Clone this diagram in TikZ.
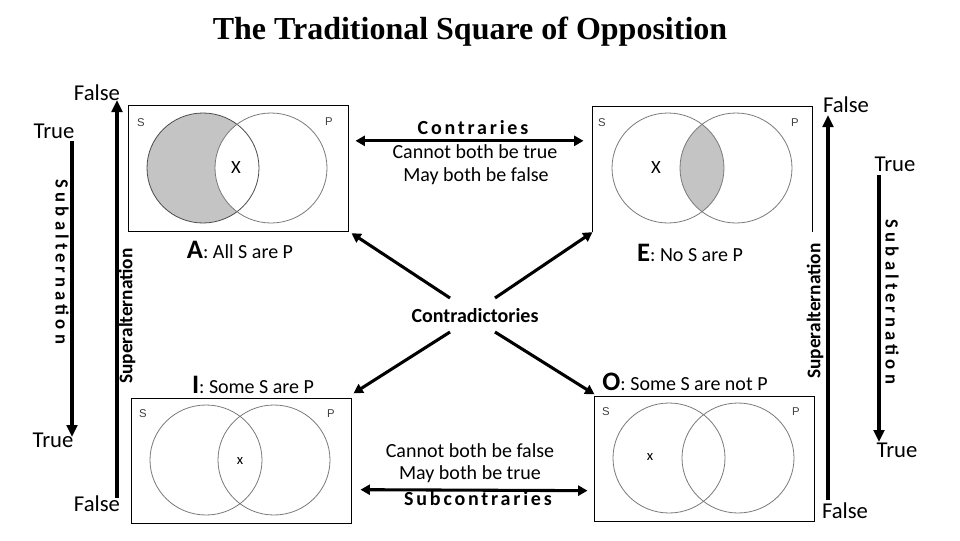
\documentclass[tikz,border=0pt]{standalone}
\usepackage{fontspec}
\setmainfont{Carlito}
\newfontfamily\titlefont{Liberation Serif}
\newfontfamily\spaced[LetterSpace=14]{Carlito}
\newfontfamily\wspaced[LetterSpace=22]{Carlito}
\newfontfamily\lblfont{Liberation Sans}
\usetikzlibrary{arrows.meta,calc}
\definecolor{vennfill}{HTML}{C4C4C4}
\definecolor{circ}{HTML}{7A7A7A}
\begin{document}
\begin{tikzpicture}[x=0.75pt,y=-0.75pt,
  box/.style={inner sep=0pt,outer sep=0pt,minimum width=165pt,minimum height=94pt},
  boxline/.style={draw=black,line width=0.7pt},
  venn/.style={draw=circ,line width=0.6pt},
  sp/.style={font=\lblfont\fontsize{8.5}{10}\selectfont,text=black!75},
  stmt/.style={font=\fontsize{15}{18}\selectfont,inner sep=1pt},
  relnote/.style={font=\fontsize{15}{18}\selectfont,inner sep=1pt},
  relname/.style={font=\spaced\bfseries\fontsize{15}{18}\selectfont,inner sep=1pt},
  tf/.style={font=\fontsize{17}{20}\selectfont,inner sep=1pt},
  vlabel/.style={font=\wspaced\bfseries\fontsize{14}{16}\selectfont,inner sep=1pt},
  suplabel/.style={font=\bfseries\fontsize{14.5}{16}\selectfont,inner sep=1pt},
  rel/.style={line width=2.3pt,-{Triangle[length=7pt,width=7.5pt]}},
  relboth/.style={line width=2.3pt,{Triangle[length=7pt,width=7.5pt]}-{Triangle[length=7pt,width=7.5pt]}},
  axis/.style={line width=3pt,-{Triangle[length=9pt,width=8pt]}}]
\useasboundingbox[fill=white] (0,0) rectangle (960,540);

% title
\node[font=\titlefont\bfseries\fontsize{24}{28}\selectfont] (title) at (470,32) {The Traditional Square of Opposition};

% boxes
\node[box,boxline] (A) at (238.5,168.5) {};
\node[box] (E) at (702.5,169.5) {};
\draw[boxline] (E.south west) -- (E.north west) -- (E.north east) -- (E.south east);
\node[box,boxline] (I) at (241.5,461) {};
\node[box,boxline] (O) at (704.5,459) {};

% A diagram
\fill[vennfill] (203,168) ellipse [x radius=56,y radius=55];
\fill[white] (271,168) ellipse [x radius=56,y radius=55];
\draw[venn,draw=black!70] (203,168) ellipse [x radius=56,y radius=55];
\draw[venn] (271,168) ellipse [x radius=56,y radius=55];
\node[sp] (AS) at (141,123) {S};
\node[sp] (AP) at (329,122) {P};
\node[font=\fontsize{14}{16}\selectfont] (AX) at (236,168) {X};

% E diagram
\begin{scope}
\clip (668,168) ellipse [x radius=56,y radius=55];
\fill[vennfill] (736,168) ellipse [x radius=56,y radius=55];
\end{scope}
\draw[venn] (668,168) ellipse [x radius=56,y radius=55];
\draw[venn] (736,168) ellipse [x radius=56,y radius=55];
\node[sp] (ES) at (602,123) {S};
\node[sp] (EP) at (795,123) {P};
\node[font=\fontsize{14}{16}\selectfont] (EX) at (656,168) {X};

% I diagram
\draw[venn] (206,460) ellipse [x radius=56,y radius=55];
\draw[venn] (274,460) ellipse [x radius=56,y radius=55];
\node[sp] (IS) at (143,414) {S};
\node[sp] (IP) at (331,414) {P};
\node[font=\fontsize{11}{12}\selectfont] (IX) at (240,461) {x};

% O diagram
\draw[venn] (669,458) ellipse [x radius=56,y radius=55];
\draw[venn] (738,458) ellipse [x radius=56,y radius=55];
\node[sp] (OS) at (606,412) {S};
\node[sp] (OP) at (796,412) {P};
\node[font=\fontsize{11}{12}\selectfont] (OX) at (650,457) {x};

% statement labels
\node[stmt] (Alab) at (240,250) {{\bfseries\fontsize{20}{22}\selectfont A}: All S are P};
\node[stmt] (Elab) at (690,253) {{\bfseries\fontsize{20}{22}\selectfont E}: No S are P};
\node[stmt] (Ilab) at (253,385) {{\bfseries\fontsize{20}{22}\selectfont I}: Some S are P};
\node[stmt] (Olab) at (685,382) {{\bfseries\fontsize{20}{22}\selectfont O}: Some S are not P};

% contraries
\node[relname] (contr) at (473,128) {Contraries};
\node[relnote] (c1) at (475,152) {Cannot both be true};
\node[relnote] (c2) at (476,176) {May both be false};
\draw[relboth] ([shift={(7,35)}]A.north east) -- ([shift={(-9,34)}]E.north west);

% subcontraries
\node[relnote] (s1) at (470,451) {Cannot both be false};
\node[relnote] (s2) at (470,474) {May both be true};
\node[relname] (subc) at (478,499) {Subcontraries};
\draw[relboth] ([shift={(9,-34)}]I.south east) -- ([shift={(-7,-31)}]O.south west);

% contradictories
\node[font=\bfseries\fontsize{15}{18}\selectfont,inner sep=1pt] (cd) at (475,316) {Contradictories};
\coordinate (cdTL) at (450,298);
\coordinate (cdTR) at (495,298);
\coordinate (cdBL) at (450,332);
\coordinate (cdBR) at (495,332);
\draw[rel] (cdTL) -- ([shift={(3,2)}]A.south east);
\draw[rel] (cdTR) -- (E.south west);
\draw[rel] (cdBL) -- ([shift={(2,-5)}]I.north east);
\draw[rel] (cdBR) -- ([shift={(0,-2)}]O.north west);

% left axes
\node[tf] (tTL) at (54,131) {True};
\node[tf] (tBL) at (53,440) {True};
\node[tf] (fTL) at (97,93) {False};
\node[tf] (fBL) at (97,504) {False};
\coordinate (subLa) at (72,141);
\coordinate (subLb) at (72,437);
\draw[axis] (subLa) -- (subLb);
\coordinate (supLa) at (117,498);
\coordinate (supLb) at (117,100);
\draw[axis] (supLa) -- (supLb);
\node[vlabel,rotate=-90] (subLlab) at (62,262) {Subalternation};
\node[suplabel,rotate=90] (supLlab) at (127,316) {Superalternation};

% right axes
\node[tf] (fTR) at (846,105) {False};
\node[tf] (fBR) at (845,511) {False};
\node[tf] (tTR) at (895,164) {True};
\node[tf] (tBR) at (897,450) {True};
\coordinate (supRa) at (828,500);
\coordinate (supRb) at (828,115);
\draw[axis] (supRa) -- (supRb);
\coordinate (subRa) at (879,175);
\coordinate (subRb) at (879,442);
\draw[axis] (subRa) -- (subRb);
\node[suplabel,rotate=90] (supRlab) at (815,311) {Superalternation};
\node[vlabel,rotate=-90] (subRlab) at (892,302) {Subalternation};
\end{tikzpicture}
\end{document}
